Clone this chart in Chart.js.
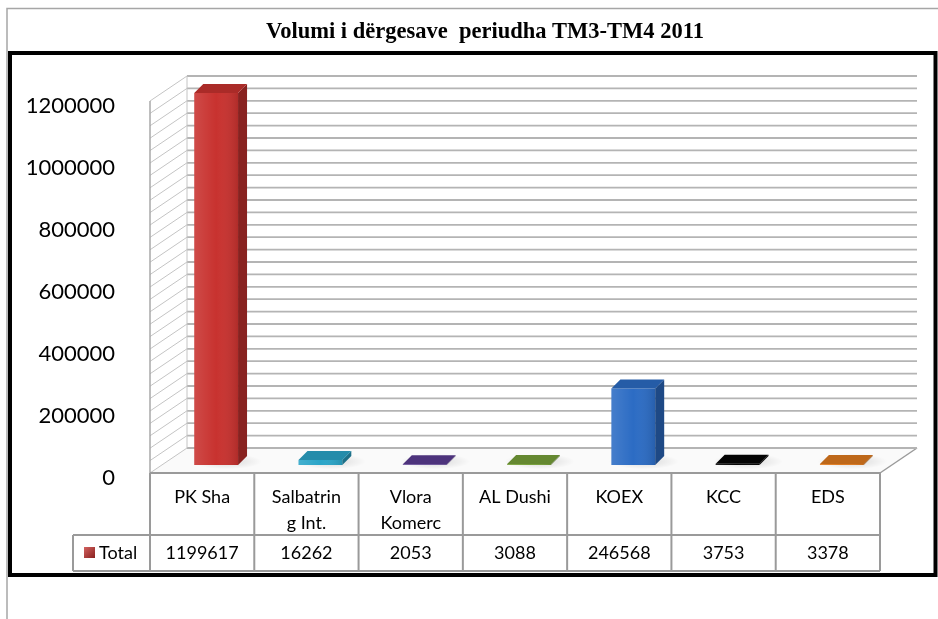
<!DOCTYPE html>
<html><head><meta charset="utf-8">
<script src="https://cdn.jsdelivr.net/npm/chart.js@4"></script>
<style>html,body{margin:0;padding:0;background:#fff;}#wrap{width:938px;height:619px;position:relative;}</style>
</head><body><div id="wrap"><canvas id="c" width="938" height="619"></canvas></div>
<script>
// ---- data ----
const categories = ['PK Sha', 'Salbatring Int.', 'Vlora Komerc', 'AL Dushi', 'KOEX', 'KCC', 'EDS'];
const headerLines = [['PK Sha'], ['Salbatrin', 'g Int.'], ['Vlora', 'Komerc'], ['AL Dushi'], ['KOEX'], ['KCC'], ['EDS']];
const totals = [1199617, 16262, 2053, 3088, 246568, 3753, 3378];
const seriesName = 'Total';
const yMax = 1200000;
const yLabelStep = 200000;
const yGridStep = 40000;
const titleText = 'Volumi i dërgesave  periudha TM3-TM4 2011';

// ---- styles ----
const barColors = ['#C8322F', '#2BA5C8', '#5A3C92', '#77A03A', '#2C6CC4', '#050505', '#E07A1E'];
const FRONT_DY = -5;
const BACK = {dx: 37, dy: -25};
const BAR = {dx: 14, dy: -8};
const BDEPTH = {dx: 9, dy: -9};

function shade(hex, f) {
  const n = parseInt(hex.slice(1), 16);
  let r = (n >> 16) & 255, g = (n >> 8) & 255, b = n & 255;
  if (f < 1) { r *= f; g *= f; b *= f; }
  else { const t = f - 1; r += (255 - r) * t; g += (255 - g) * t; b += (255 - b) * t; }
  return 'rgb(' + Math.round(r) + ',' + Math.round(g) + ',' + Math.round(b) + ')';
}

const plugin3d = {
  id: 'plugin3d',
  beforeDatasetsDraw(chart) {
    const c = chart.ctx, xs = chart.scales.x, ys = chart.scales.y;
    const L = xs.left, R = xs.right;
    const y0 = ys.getPixelForValue(0) + FRONT_DY;
    const yT = ys.getPixelForValue(yMax) + FRONT_DY;
    c.save();
    // frames
    c.strokeStyle = '#a6a6a6'; c.lineWidth = 1.5;
    c.beginPath(); c.moveTo(7, 619); c.lineTo(7, 8.5); c.lineTo(938, 8.5); c.stroke();
    c.strokeStyle = '#000'; c.lineWidth = 4;
    c.strokeRect(10, 53, 925.5, 522);
    // title
    c.fillStyle = '#000';
    c.font = 'bold 22.5px "Liberation Serif"';
    c.textAlign = 'center'; c.textBaseline = 'middle';
    c.fillText(titleText, 485, 32);
    // floor
    c.fillStyle = '#fafafa';
    c.beginPath(); c.moveTo(L, y0); c.lineTo(R, y0); c.lineTo(R + BACK.dx, y0 + BACK.dy); c.lineTo(L + BACK.dx, y0 + BACK.dy); c.closePath(); c.fill();
    c.strokeStyle = '#9a9a9a'; c.lineWidth = 1.5;
    c.beginPath(); c.moveTo(R, y0); c.lineTo(R + BACK.dx, y0 + BACK.dy); c.stroke();
    // back wall gridlines & side wall lines
    for (let v = 0; v <= yMax; v += yGridStep) {
      const yy = ys.getPixelForValue(v) + FRONT_DY;
      c.strokeStyle = '#b4b4b4'; c.lineWidth = 1.8;
      c.beginPath(); c.moveTo(L + BACK.dx, yy + BACK.dy); c.lineTo(R + BACK.dx, yy + BACK.dy); c.stroke();
      c.strokeStyle = '#c4c4c4'; c.lineWidth = 1;
      c.beginPath(); c.moveTo(L, yy); c.lineTo(L + BACK.dx, yy + BACK.dy); c.stroke();
    }
    c.strokeStyle = '#c4c4c4'; c.lineWidth = 1;
    c.beginPath(); c.moveTo(L + BACK.dx, y0 + BACK.dy); c.lineTo(L + BACK.dx, yT + BACK.dy); c.stroke();
    c.strokeStyle = '#a8a8a8'; c.lineWidth = 1.5;
    c.beginPath(); c.moveTo(L, y0); c.lineTo(L, yT); c.stroke();
    // shadows under bars
    const meta = chart.getDatasetMeta(0);
    meta.data.forEach((bar) => {
      const p = bar.getProps(['x', 'width'], true);
      const cx = p.x + BAR.dx + BDEPTH.dx / 2 + 6, cy = y0 + BAR.dy + BDEPTH.dy / 2 + 1;
      const g = c.createRadialGradient(cx, cy, 2, cx, cy, p.width * 0.8);
      g.addColorStop(0, 'rgba(0,0,0,0.13)'); g.addColorStop(1, 'rgba(0,0,0,0)');
      c.fillStyle = g;
      c.save(); c.translate(cx, cy); c.scale(1, 0.22); c.translate(-cx, -cy);
      c.beginPath(); c.arc(cx, cy, p.width * 0.8, 0, Math.PI * 2); c.fill();
      c.restore();
    });
    // data table
    const n = categories.length, colW = (R - L) / n;
    const hTop = y0, hBot = 535, vBot = 571, legL = 73;
    c.strokeStyle = '#9a9a9a'; c.lineWidth = 2;
    c.beginPath();
    c.moveTo(L, hTop); c.lineTo(R, hTop);
    c.moveTo(legL, hBot); c.lineTo(R, hBot);
    c.moveTo(legL, vBot); c.lineTo(R, vBot);
    c.moveTo(legL, hBot); c.lineTo(legL, vBot);
    for (let i = 0; i <= n; i++) {
      const x = (i < n) ? xs.getPixelForValue(i) - colW / 2 : xs.getPixelForValue(n - 1) + colW / 2;
      c.moveTo(x, hTop); c.lineTo(x, vBot);
    }
    c.stroke();
    c.fillStyle = '#000'; c.font = '18px Lato'; c.textAlign = 'center'; c.textBaseline = 'middle';
    for (let i = 0; i < n; i++) {
      const x = xs.getPixelForValue(i);
      headerLines[i].forEach((t, k) => c.fillText(t, x, 497 + k * 26));
      c.fillText(String(totals[i]), x, 553);
    }
    // legend key
    const lg = c.createLinearGradient(84, 546, 95, 557);
    lg.addColorStop(0, shade(barColors[0], 1.25)); lg.addColorStop(1, shade(barColors[0], 0.7));
    c.fillStyle = lg; c.fillRect(84, 547, 11, 11);
    c.fillStyle = '#000'; c.textAlign = 'left';
    c.fillText(seriesName, 99, 553);
    c.restore();
    // translate bars to their depth plane
    c.save();
    c.translate(BAR.dx, FRONT_DY + BAR.dy);
  },
  afterDatasetsDraw(chart) {
    const c = chart.ctx;
    const meta = chart.getDatasetMeta(0);
    meta.data.forEach((bar, i) => {
      const p = bar.getProps(['x', 'y', 'base', 'width'], true);
      const l = p.x - p.width / 2, r = p.x + p.width / 2, t = p.y, b = p.base;
      const col = barColors[i];
      const fg = c.createLinearGradient(l, 0, r, 0);
      fg.addColorStop(0, 'rgba(255,255,255,0.12)');
      fg.addColorStop(0.5, 'rgba(255,255,255,0.0)');
      fg.addColorStop(1, 'rgba(0,0,0,0.12)');
      c.fillStyle = fg; c.fillRect(l, t, r - l, b - t);
      c.fillStyle = shade(col, 0.68);
      c.beginPath(); c.moveTo(r, t); c.lineTo(r + BDEPTH.dx, t + BDEPTH.dy); c.lineTo(r + BDEPTH.dx, b + BDEPTH.dy); c.lineTo(r, b); c.closePath(); c.fill();
      c.fillStyle = shade(col, 0.85);
      c.beginPath(); c.moveTo(l, t); c.lineTo(r, t); c.lineTo(r + BDEPTH.dx, t + BDEPTH.dy); c.lineTo(l + BDEPTH.dx, t + BDEPTH.dy); c.closePath(); c.fill();
    });
    c.restore();
  }
};

new Chart(document.getElementById('c'), {
  type: 'bar',
  data: {
    labels: categories,
    datasets: [{label: seriesName, data: totals, backgroundColor: barColors, borderWidth: 0, categoryPercentage: 1, barPercentage: 0.42}]
  },
  options: {
    responsive: false, animation: false, events: [],
    layout: {padding: {left: 10, top: 106, right: 58, bottom: 141}},
    plugins: {legend: {display: false}, title: {display: false}, tooltip: {enabled: false}},
    scales: {
      x: {display: false},
      y: {
        min: 0, max: yMax,
        afterFit(s) { s.width = 140; },
        grid: {display: false}, border: {display: false},
        ticks: {stepSize: yLabelStep, padding: 27, color: '#000', font: {family: 'Lato', size: 22}, callback: v => String(v)}
      }
    }
  },
  plugins: [plugin3d]
});
</script></body></html>
